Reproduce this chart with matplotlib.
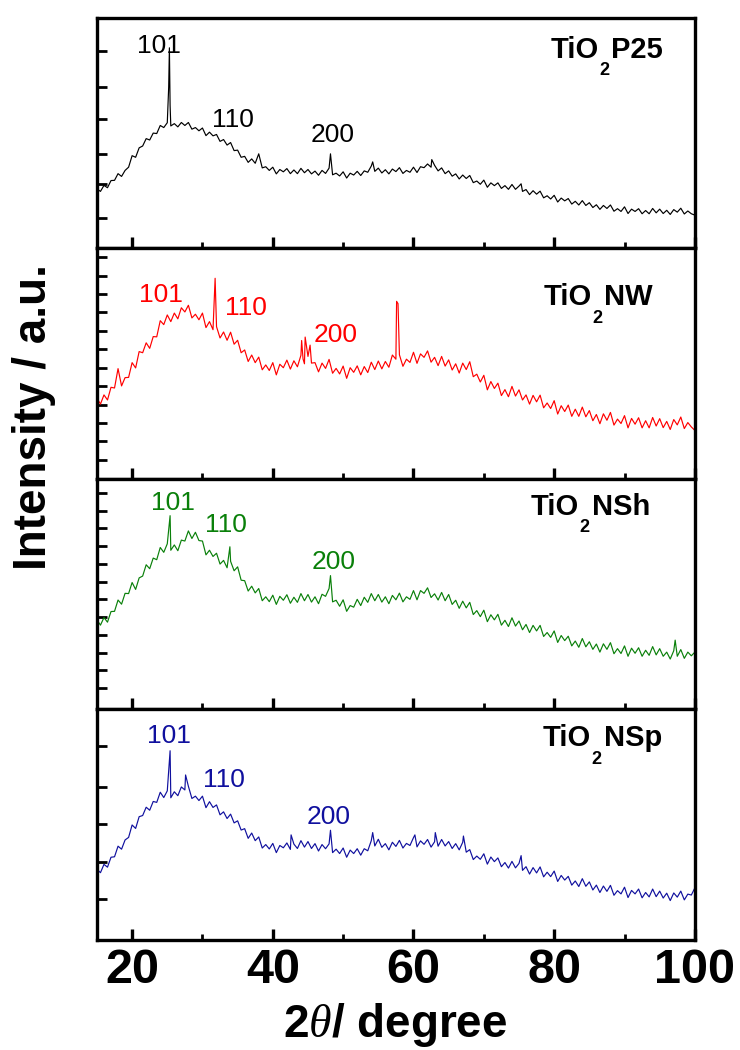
import numpy as np
import matplotlib
matplotlib.use('Agg')
import matplotlib.pyplot as plt
from matplotlib.ticker import MultipleLocator, NullFormatter

plt.rcParams['font.family'] = ['Liberation Sans', 'DejaVu Sans']
plt.rcParams['mathtext.fontset'] = 'custom'
plt.rcParams['mathtext.rm'] = 'Liberation Sans'
plt.rcParams['mathtext.it'] = 'Liberation Serif:italic'
plt.rcParams['mathtext.default'] = 'regular'

# 2theta sampling (degrees), 0.5 deg steps from 15 to 100
two_theta = np.arange(15, 100.01, 0.5)

# intensities (a.u., 0-100 inside each panel)
p25_counts = [
    25.8, 24.7, 27.3, 26.3, 29.4, 29.5, 32.4, 31.2, 33.8, 35.2,
    40.2, 39.5, 43.6, 44.4, 47.6, 47.0, 50.0, 49.8, 53.3, 52.4,
    54.5, 53.1, 54.1, 52.7, 54.6, 53.3, 54.6, 51.7, 52.4, 51.0,
    52.2, 48.9, 50.4, 48.8, 49.4, 46.4, 47.2, 44.8, 45.9, 42.4,
    42.6, 39.5, 39.9, 37.3, 38.8, 36.9, 41.0, 34.9, 35.4, 33.8,
    35.2, 32.3, 34.2, 33.2, 34.6, 32.4, 34.0, 32.4, 34.7, 32.8,
    34.2, 32.3, 33.5, 31.7, 33.8, 32.5, 34.8, 31.9, 32.6, 31.4,
    33.2, 30.5, 32.6, 31.8, 33.4, 31.6, 33.6, 33.0, 35.7, 33.4,
    34.8, 32.7, 34.1, 32.3, 34.4, 33.3, 35.0, 32.5, 33.8, 33.0,
    35.2, 32.9, 35.4, 35.0, 36.6, 35.2, 36.0, 33.6, 34.9, 32.4,
    33.6, 31.3, 32.3, 30.1, 31.8, 30.3, 31.6, 28.5, 29.2, 27.8,
    29.6, 26.5, 28.4, 27.2, 28.4, 26.0, 27.2, 25.6, 27.7, 25.6,
    27.0, 24.7, 25.5, 23.3, 25.0, 23.5, 24.8, 21.9, 22.8, 21.4,
    23.0, 20.1, 21.8, 20.6, 21.6, 19.2, 20.4, 18.8, 20.7, 18.6,
    19.8, 17.7, 18.9, 16.9, 18.6, 17.3, 18.8, 16.1, 17.2, 16.0,
    18.0, 15.1, 17.0, 16.0, 17.2, 15.0, 16.4, 15.0, 17.3, 15.4,
    17.0, 15.1, 16.5, 14.7, 16.8, 15.7, 17.4, 14.9, 16.2, 15.0,
    14.4]
nw_counts = [
    35.1, 32.4, 36.4, 34.2, 39.7, 39.4, 47.8, 40.3, 43.9, 44.0,
    50.4, 48.1, 55.2, 54.7, 59.0, 56.6, 61.7, 61.6, 68.6, 66.9,
    71.1, 68.2, 71.9, 69.4, 74.2, 72.4, 75.3, 69.8, 71.4, 69.0,
    71.9, 65.6, 68.2, 64.7, 66.0, 61.1, 63.7, 60.1, 63.6, 58.4,
    60.1, 54.7, 55.9, 50.9, 53.7, 50.4, 52.8, 47.3, 49.4, 47.0,
    50.4, 45.1, 49.7, 48.2, 51.5, 47.6, 51.2, 48.6, 53.6, 49.9,
    53.1, 50.2, 50.4, 46.4, 50.2, 47.9, 51.8, 45.8, 47.9, 45.5,
    48.9, 43.6, 48.2, 46.2, 49.0, 45.1, 48.7, 46.1, 50.6, 47.4,
    51.1, 47.7, 50.9, 48.4, 53.7, 51.9, 53.8, 48.8, 51.9, 50.5,
    54.9, 50.1, 54.2, 52.7, 55.5, 50.6, 52.7, 49.1, 53.1, 48.9,
    51.6, 47.2, 49.9, 45.9, 50.2, 47.4, 50.8, 44.3, 45.4, 42.0,
    44.9, 38.6, 42.2, 39.2, 41.5, 36.1, 38.7, 35.6, 40.1, 35.9,
    38.6, 34.2, 36.4, 32.4, 36.2, 33.4, 36.3, 30.8, 32.9, 30.5,
    33.9, 28.1, 31.7, 29.2, 32.0, 27.1, 30.2, 27.1, 31.1, 26.9,
    29.6, 25.2, 27.9, 23.9, 28.2, 25.4, 28.8, 23.3, 25.9, 24.0,
    27.4, 22.1, 26.2, 23.7, 26.5, 22.1, 25.2, 22.1, 26.6, 22.9,
    26.1, 22.2, 24.9, 21.4, 25.7, 23.4, 26.8, 21.8, 24.4, 22.5,
    21.0]
nsh_counts = [
    38.8, 36.5, 39.8, 37.8, 42.4, 42.5, 47.4, 45.6, 50.3, 50.2,
    55.0, 52.0, 57.0, 57.8, 62.7, 61.0, 65.6, 64.9, 70.2, 68.1,
    71.8, 69.0, 71.3, 68.8, 73.4, 73.0, 77.4, 74.1, 76.8, 73.2,
    73.0, 67.0, 69.0, 66.3, 67.7, 63.0, 64.6, 61.4, 64.2, 60.1,
    61.8, 56.0, 55.8, 51.3, 53.4, 50.5, 52.4, 47.1, 48.8, 46.7,
    49.5, 45.5, 49.0, 47.3, 49.7, 46.0, 48.6, 46.4, 50.2, 47.1,
    49.8, 46.5, 48.8, 45.8, 49.9, 49.0, 52.4, 46.6, 47.3, 44.7,
    47.5, 42.5, 45.0, 44.3, 47.7, 45.0, 48.6, 46.4, 50.2, 47.1,
    49.8, 46.5, 48.8, 45.8, 49.4, 47.5, 50.4, 46.6, 48.8, 47.7,
    51.5, 47.5, 51.5, 50.3, 52.7, 48.5, 50.1, 47.4, 50.7, 47.1,
    49.8, 45.5, 47.3, 43.8, 46.9, 44.0, 46.4, 41.1, 42.8, 40.2,
    43.0, 38.0, 41.0, 38.8, 41.2, 36.5, 38.6, 35.9, 39.7, 36.1,
    38.3, 34.5, 36.8, 33.3, 36.4, 34.0, 36.4, 31.6, 33.3, 31.2,
    34.0, 29.0, 32.0, 29.8, 31.7, 27.5, 29.6, 26.9, 30.7, 27.1,
    29.3, 26.0, 28.3, 24.8, 28.4, 26.0, 28.9, 24.1, 26.3, 24.2,
    27.5, 23.0, 26.5, 24.3, 26.7, 23.0, 25.6, 23.4, 27.2, 23.6,
    26.3, 23.0, 24.8, 21.8, 25.4, 23.0, 25.9, 22.1, 24.8, 23.2,
    24.8]
nsp_counts = [
    30.6, 29.1, 32.7, 31.5, 35.8, 36.0, 40.6, 39.3, 43.3, 44.4,
    49.8, 48.3, 53.4, 53.9, 57.5, 56.2, 60.0, 59.6, 64.0, 61.7,
    64.6, 61.6, 64.2, 62.5, 66.3, 65.0, 66.6, 61.3, 62.3, 60.4,
    62.3, 57.3, 59.9, 57.4, 58.5, 54.2, 55.5, 52.6, 54.5, 50.7,
    51.6, 47.6, 48.2, 44.0, 46.3, 43.0, 44.6, 39.8, 41.3, 39.4,
    41.8, 37.8, 40.9, 39.9, 42.0, 39.2, 41.5, 39.6, 43.0, 40.2,
    42.6, 39.6, 41.7, 38.5, 41.3, 39.5, 41.6, 37.8, 39.3, 37.4,
    39.8, 35.8, 38.9, 37.4, 39.5, 36.7, 39.5, 38.6, 43.0, 40.7,
    43.6, 40.1, 41.7, 39.0, 42.3, 40.5, 43.1, 39.8, 41.8, 40.9,
    44.3, 40.3, 42.9, 41.4, 43.5, 40.2, 42.5, 40.6, 43.5, 40.7,
    42.6, 39.6, 41.7, 39.0, 42.3, 38.0, 39.1, 34.8, 36.3, 34.9,
    37.3, 32.8, 35.9, 33.9, 35.5, 31.7, 33.5, 31.1, 34.0, 31.2,
    33.1, 30.1, 31.7, 28.5, 31.3, 29.0, 31.6, 27.3, 29.3, 27.4,
    29.8, 25.3, 27.9, 25.9, 27.5, 23.7, 25.5, 23.1, 26.5, 23.2,
    25.1, 21.6, 23.7, 20.5, 23.3, 21.0, 23.6, 19.3, 21.3, 19.9,
    22.8, 18.3, 21.4, 19.9, 22.0, 18.2, 20.5, 18.6, 22.0, 18.7,
    21.1, 18.1, 20.2, 17.0, 20.3, 18.5, 21.1, 17.3, 19.8, 19.4,
    22.5]

# sharp reflections (position, top)
p25_peak_pos = [25.2, 25.3, 25.4, 48.2, 54.2, 62.6, 75.3]
p25_peak_top = [70.0, 87.0, 62.0, 41.0, 37.5, 38.5, 28.0]
nw_peak_pos = [31.8, 44.1, 44.3, 44.6, 45.3, 57.6, 57.8]
nw_peak_top = [87.0, 60.0, 52.0, 61.5, 58.0, 77.0, 76.0]
nsh_peak_pos = [25.4, 33.9, 48.2, 97.2]
nsh_peak_top = [84.0, 70.5, 58.0, 30.0]
nsp_peak_pos = [25.4, 27.6, 42.6, 48.2, 54.2, 60.2, 63.1, 67.1, 75.3]
nsp_peak_top = [82.0, 71.5, 45.5, 47.5, 46.5, 45.5, 46.5, 45.0, 36.5]

sample_heads = ['TiO', 'TiO', 'TiO', 'TiO']
sample_tails = ['P25', 'NW', 'NSh', 'NSp']
hkl_labels = ['101', '110', '200']
colors = ['black', '#ff0000', '#0a800a', '#10109e']


def merged(counts, peak_pos, peak_top):
    x = np.concatenate([two_theta, peak_pos])
    y = np.concatenate([counts, peak_top])
    order = np.argsort(x, kind='stable')
    return x[order], y[order]


panels = [
    (p25_counts, p25_peak_pos, p25_peak_top),
    (nw_counts, nw_peak_pos, nw_peak_top),
    (nsh_counts, nsh_peak_pos, nsh_peak_top),
    (nsp_counts, nsp_peak_pos, nsp_peak_top),
]

# label placement per panel: 101, 110, 200 centres; sample name right/baseline
hkl_pos = [
    [(23.8, 88), (34.3, 55.5), (48.5, 49)],
    [(24.1, 79.7), (36.2, 73.9), (49.0, 62.3)],
    [(25.8, 89.7), (33.4, 80), (48.7, 63.8)],
    [(25.2, 88.3), (33.1, 69.3), (47.9, 53.3)],
]
name_pos = [(95.5, 82.6), (94.0, 75.3), (93.6, 84.3), (95.3, 84.0)]
ytick_sets = [
    [13.1, 27.7, 40.9, 56.2, 70.0, 85.4],
    [8.2, 16.2, 24.2, 32.2, 40.2, 48.2, 56.2, 64.2, 72.2, 80.2, 88.2, 96.2],
    [9.2, 16.9, 24.6, 32.3, 40.0, 47.7, 55.4, 63.1, 70.8, 78.5, 86.2, 93.9],
    [17.5, 33.6, 50.4, 66.4, 84.0],
]

fig, axes = plt.subplots(4, 1, sharex=True, figsize=(7.4, 10.5), dpi=100)
fig.subplots_adjust(left=0.131, right=0.939, top=0.983, bottom=0.105, hspace=0)
renderer = fig.canvas.get_renderer()
px2pt = 72.0 / fig.dpi


def sample_label(ax, x, y, head, tail, fs=21):
    # TiO + low subscript 2 + tail, right aligned at x, baseline at y
    t = ax.text(x, y, tail, fontsize=fs, fontweight='bold', ha='right', va='baseline')
    w = t.get_window_extent(renderer).width * px2pt
    ax.annotate('2', (x, y), xytext=(-w - 1.2, -0.6 * fs), textcoords='offset points',
                fontsize=0.62 * fs, fontweight='bold', ha='right', va='baseline')
    ax.annotate(head, (x, y), xytext=(-w - 8.8, 0), textcoords='offset points',
                fontsize=fs, fontweight='bold', ha='right', va='baseline')


for i, ax in enumerate(axes):
    counts, pk_x, pk_y = panels[i]
    x, y = merged(counts, pk_x, pk_y)
    ax.plot(x, y, color=colors[i], lw=0.85)
    ax.set_xlim(15, 100)
    ax.set_ylim(0, 100)
    for lab, (lx, ly) in zip(hkl_labels, hkl_pos[i]):
        ax.text(lx, ly, lab, color=colors[i], fontsize=19, ha='center', va='center')
    nx, ny = name_pos[i]
    sample_label(ax, nx, ny, sample_heads[i], sample_tails[i])
    for s in ax.spines.values():
        s.set_linewidth(2.4)
    ax.set_yticks(ytick_sets[i])
    ax.yaxis.set_major_formatter(NullFormatter())
    ax.xaxis.set_major_locator(MultipleLocator(20))
    ax.xaxis.set_minor_locator(MultipleLocator(10))
    ax.tick_params(axis='y', direction='in', length=7, width=2, left=True, right=False)
    ax.tick_params(axis='x', which='major', direction='in', length=8, width=2.4, top=False)
    ax.tick_params(axis='x', which='minor', direction='in', length=4, width=2, top=False)

axes[-1].tick_params(axis='x', which='major', labelsize=35, pad=6)
for t in axes[-1].get_xticklabels():
    t.set_fontweight('bold')

fig.text(0.046, 0.603, 'Intensity / a.u.', rotation=90, fontsize=33,
         fontweight='bold', ha='center', va='center')
fig.text(0.534, 0.0124, r'2$\mathit{\theta}$/ degree', fontsize=33,
         fontweight='bold', ha='center', va='baseline')

plt.savefig('out.png', dpi=100)
